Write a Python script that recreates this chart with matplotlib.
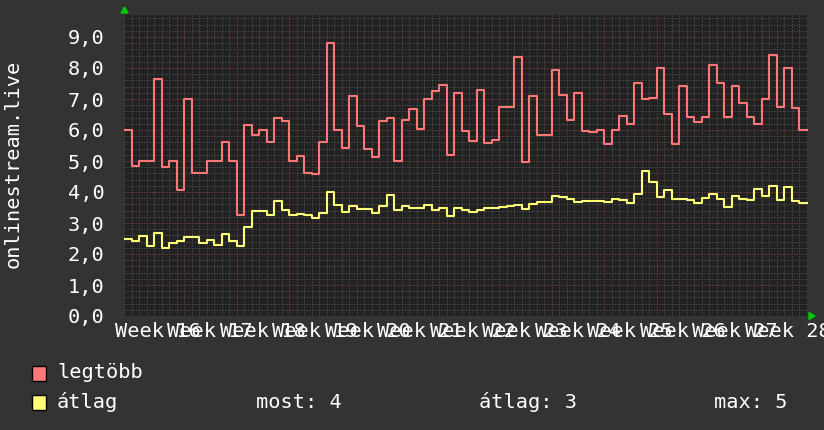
import numpy as np
import matplotlib
matplotlib.use("Agg")
import matplotlib.pyplot as plt
from matplotlib.patches import Rectangle, Polygon

# ---- data (daily values, 91 days) ----
legtobb = [6.0, 4.85, 5.0, 5.0, 7.65, 4.8, 5.0, 4.07, 7.0, 4.6, 4.6, 5.0, 5.0, 5.6, 5.0, 3.26, 6.16, 5.85, 6.0, 5.6, 6.4, 6.3, 5.0,
           5.17, 4.62, 4.58, 5.62, 8.82, 6.0, 5.41, 7.1, 6.14, 5.39, 5.13, 6.29, 6.4, 5.0, 6.32, 6.68, 6.02, 7.01, 7.27, 7.45, 5.19, 7.18, 5.97,
           5.65, 7.29, 5.59, 5.68, 6.75, 6.75, 8.35, 4.98, 7.1, 5.85, 5.85, 7.94, 7.13, 6.32, 7.18, 5.97, 5.95, 6.0, 5.56, 6.0, 6.45, 6.2, 7.5,
           6.99, 7.02, 8.01, 6.52, 5.56, 7.42, 6.43, 6.27, 6.42, 8.1, 7.53, 6.42, 7.42, 6.88, 6.42, 6.2, 6.99, 8.42, 6.75, 8.01, 6.7, 6.0]
atlag = [2.5, 2.43, 2.59, 2.27, 2.68, 2.18, 2.35, 2.43, 2.56, 2.54, 2.35, 2.46, 2.3, 2.65, 2.43, 2.27, 2.87, 3.4, 3.4, 3.26, 3.72, 3.43, 3.26,
         3.29, 3.26, 3.17, 3.32, 4.01, 3.58, 3.37, 3.55, 3.44, 3.44, 3.33, 3.56, 3.9, 3.42, 3.55, 3.49, 3.49, 3.58, 3.42, 3.49, 3.24, 3.48, 3.42,
         3.34, 3.43, 3.47, 3.49, 3.53, 3.56, 3.58, 3.44, 3.61, 3.69, 3.69, 3.87, 3.83, 3.77, 3.69, 3.7, 3.72, 3.72, 3.69, 3.77, 3.75, 3.66, 3.93,
         4.69, 4.31, 3.84, 4.07, 3.76, 3.78, 3.73, 3.66, 3.82, 3.93, 3.76, 3.53, 3.88, 3.76, 3.74, 4.1, 3.88, 4.19, 3.73, 4.17, 3.72, 3.66]
week_labels = ["Week %d" % w for w in range(16, 29)]
y_ticks = list(range(0, 10))
y_tick_labels = ["%d,0" % v for v in y_ticks]
series_names = ["legtöbb", "átlag"]
stats_text = ["most: 4", "átlag: 3", "max: 5"]

W, H = 824, 430
CANVAS = "#333333"
BACK = "#222222"
RED = "#ff7777"
YEL = "#ffff77"
FONT = "DejaVu Sans Mono"
FS = 14.6

fig = plt.figure(figsize=(W / 100, H / 100), dpi=100, facecolor=CANVAS)
x0, x1, ytop, ybot = 124, 808, 15, 316
ax = fig.add_axes([x0 / W, (H - ybot) / H, (x1 - x0) / W, (ybot - ytop) / H])
ax.set_facecolor(BACK)

n = len(legtobb)
xs = np.arange(n + 1)
ymax = (ybot - ytop) / 31.0
ax.set_xlim(0, (x1 - x0) / 7.5)
ax.set_ylim(0, ymax)

# grid
dot = (0, (1.4, 1.4))
for d in range(0, int((x1 - x0) / 7.5) + 1):
    ax.axvline(d, color="#4a4a4a", lw=0.72, ls=dot, zorder=1)
for v in np.arange(0, ymax, 0.2):
    ax.axhline(v, color="#4a4a4a", lw=0.72, ls=dot, zorder=1)
week_pos = [1 + 7 * k for k in range(len(week_labels))]
for p in week_pos:
    ax.axvline(p, color="#6a3434", lw=0.72, ls=dot, zorder=2)
for v in y_ticks:
    ax.axhline(v, color="#6a3434", lw=0.72, ls=dot, zorder=2)

ax.plot(xs, legtobb + [legtobb[-1]], drawstyle="steps-post", color=RED, lw=1.5, zorder=5)
ax.plot(xs, atlag + [atlag[-1]], drawstyle="steps-post", color=YEL, lw=1.5, zorder=5)

for s in ax.spines.values():
    s.set_visible(False)

ax.set_yticks(y_ticks)
ax.set_yticklabels(y_tick_labels, fontfamily=FONT, fontsize=FS, color="white")
ax.set_xticks([p + 3.5 for p in week_pos])
ax.set_xticklabels(week_labels, fontfamily=FONT, fontsize=FS, color="white")
ax.tick_params(axis="both", length=0, pad=4)
ax.tick_params(axis="y", pad=14)

fig.text(13 / W, 1 - 164 / H, "onlinestream.live", rotation=90, ha="center", va="center",
         fontfamily=FONT, fontsize=FS, color="white")

# arrows
fig.add_artist(Polygon([[ (x0 - 3) / W, 1 - 13 / H], [(x0 + 4) / W, 1 - 13 / H], [(x0 + 0.5) / W, 1 - 7 / H]],
                       closed=True, transform=fig.transFigure, color="#00cc00"))
fig.add_artist(Polygon([[ (x1 + 1) / W, 1 - (ybot - 3.5) / H], [(x1 + 1) / W, 1 - (ybot + 3.5) / H], [(x1 + 7) / W, 1 - ybot / H]],
                       closed=True, transform=fig.transFigure, color="#00cc00"))

# legend
rows = [(373, RED, series_names[0]), (402, YEL, series_names[1])]
for yc, col, name in rows:
    fig.add_artist(Rectangle((32 / W, 1 - (yc + 7.5) / H), 14 / W, 15 / H, transform=fig.transFigure,
                             facecolor=col, edgecolor="black", lw=1))
    fig.text(57 / W, 1 - yc / H, name, ha="left", va="center", fontfamily=FONT, fontsize=FS, color="white")
for xp, t in zip([256, 479, 714], stats_text):
    fig.text(xp / W, 1 - 402 / H, t, ha="left", va="center", fontfamily=FONT, fontsize=FS, color="white")

fig.savefig("out.png", dpi=100, facecolor=CANVAS)
